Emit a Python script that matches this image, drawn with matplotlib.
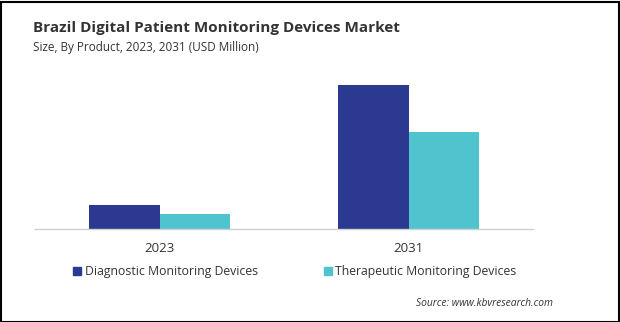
import matplotlib
matplotlib.use("Agg")
import matplotlib.pyplot as plt
from matplotlib.patches import Rectangle
import numpy as np

years = ["2023", "2031"]
series_names = ["Diagnostic Monitoring Devices", "Therapeutic Monitoring Devices"]
diagnostic = [24, 144]
therapeutic = [15, 97]
colors = ["#2B3990", "#4FC4CF"]

plt.rcParams["font.family"] = ["Open Sans", "DejaVu Sans"]

fig = plt.figure(figsize=(6.2, 3.22), dpi=100)
W, H = 620, 322

# plot area in pixel coordinates
left, right, top, bottom = 35, 533, 70, 229
ax = fig.add_axes([left / W, 1 - bottom / H, (right - left) / W, (bottom - top) / H])

x = np.arange(len(years))
bw = 0.285
ax.bar(x - bw / 2, diagnostic, width=bw, color=colors[0], label=series_names[0])
ax.bar(x + bw / 2, therapeutic, width=bw, color=colors[1], label=series_names[1])
ax.set_xlim(-0.5, 1.5)
ax.set_ylim(0, bottom - top)
ax.set_xticks(x)
ax.set_xticklabels(years, fontsize=9.5, color="#333333")
ax.tick_params(axis="x", length=0, pad=9)
ax.set_yticks([])
for s in ["top", "right", "left"]:
    ax.spines[s].set_visible(False)
ax.spines["bottom"].set_color("#d0d0d0")
ax.spines["bottom"].set_linewidth(1)

fig.text(33 / W, 1 - 28 / H, "Brazil Digital Patient Monitoring Devices Market",
         fontsize=11, fontweight="bold", color="#333333", va="center")
fig.text(33 / W, 1 - 47 / H, "Size, By Product, 2023, 2031 (USD Million)",
         fontsize=8.5, color="#333333", va="center")

# legend
for mx, tx, name, c in [(73, 85, series_names[0], colors[0]), (324, 335, series_names[1], colors[1])]:
    fig.patches.append(Rectangle((mx / W, 1 - 275 / H), 8 / W, 8 / H,
                                 transform=fig.transFigure, color=c))
    fig.text(tx / W, 1 - 271 / H, name, fontsize=8.8, color="#333333", va="center")

fig.text(553 / W, 1 - 304 / H, "Source: www.kbvresearch.com", fontsize=7.4,
         style="italic", color="#333333", ha="right", va="center")

# outer frame
fig.patches.append(Rectangle((0.5 / W, 0.5 / H), 1 - 2 / W, 1 - 2 / H, transform=fig.transFigure,
                             fill=False, edgecolor="black", linewidth=1.5))

fig.savefig("out.png", dpi=100)
